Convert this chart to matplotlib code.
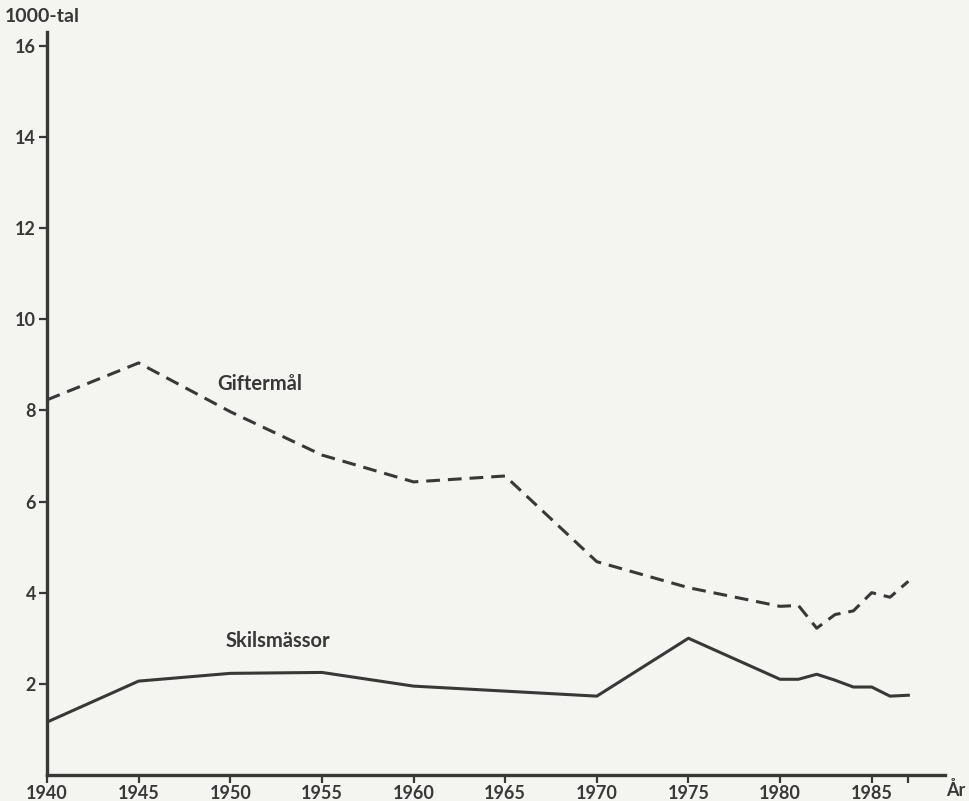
import matplotlib
matplotlib.use("Agg")
import matplotlib.pyplot as plt

# Data (1000-tal)
years_gift = [1940, 1945, 1950, 1955, 1960, 1965, 1970, 1975, 1980, 1981, 1982, 1983, 1984, 1985, 1986, 1987]
giftermal = [8.23, 9.04, 7.97, 7.02, 6.43, 6.56, 4.68, 4.11, 3.70, 3.72, 3.22, 3.52, 3.60, 4.00, 3.90, 4.25]
years_skils = [1940, 1945, 1950, 1955, 1960, 1965, 1970, 1975, 1980, 1981, 1982, 1983, 1984, 1985, 1986, 1987]
skilsmassor = [1.16, 2.06, 2.23, 2.25, 1.95, 1.84, 1.73, 3.00, 2.10, 2.10, 2.21, 2.08, 1.93, 1.93, 1.73, 1.75]
xtick_labels = ["1940", "1945", "1950", "1955", "1960", "1965", "1970", "1975", "1980", "1985"]
xtick_pos = [1940, 1945, 1950, 1955, 1960, 1965, 1970, 1975, 1980, 1985]
ytick_pos = [2, 4, 6, 8, 10, 12, 14, 16]

bg = "#f4f4f0"
ink = "#383838"
fam = ["Lato", "DejaVu Sans"]

fig = plt.figure(figsize=(9.7, 8.01), dpi=100, facecolor=bg)
ax = fig.add_axes([47 / 970, 26 / 801, (945 - 47) / 970, (775 - 32) / 801])
ax.set_facecolor(bg)

ax.plot(years_gift, giftermal, color=ink, lw=2.2, linestyle=(0, (4.5, 2.6)),
        solid_joinstyle="round", dash_capstyle="butt")
ax.plot(years_skils, skilsmassor, color=ink, lw=2.2, solid_joinstyle="round")

ax.set_xlim(1940, 1989)
ax.set_ylim(0, 16.3)

for s in ["top", "right"]:
    ax.spines[s].set_visible(False)
for s in ["left", "bottom"]:
    ax.spines[s].set_linewidth(2.4)
    ax.spines[s].set_color(ink)

ax.set_yticks(ytick_pos)
ax.set_yticklabels([str(v) for v in ytick_pos], fontsize=13, fontweight="bold",
                   family=fam, color=ink)
ax.tick_params(axis="y", direction="out", length=6, width=1.6, color=ink, pad=2)

ax.set_xticks(xtick_pos + [1987])
ax.set_xticklabels(xtick_labels + [""], fontsize=13, fontweight="bold",
                   family=fam, color=ink)
ax.tick_params(axis="x", direction="out", length=6, width=1.6, color=ink, pad=11.5)
for tl in ax.get_xticklabels():
    tl.set_verticalalignment("baseline")

fig.text(5 / 970, 1 - 16 / 801, "1000-tal", fontsize=14, fontweight="bold",
         family=fam, color=ink, va="center", ha="left")
fig.text(956 / 970, 1 - 796 / 801, "År", fontsize=13, fontweight="bold",
         family=fam, color=ink, va="baseline", ha="center")

ax.text(1951.6, 8.58, "Giftermål", fontsize=14.5, fontweight="bold", family=fam,
        color=ink, ha="center", va="center")
ax.text(1952.6, 2.93, "Skilsmässor", fontsize=14.5, fontweight="bold", family=fam,
        color=ink, ha="center", va="center")

fig.savefig("out.png", dpi=100, facecolor=bg)
